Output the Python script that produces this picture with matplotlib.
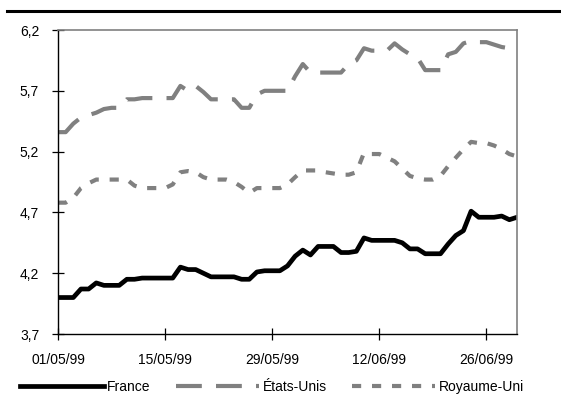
import matplotlib
matplotlib.use("Agg")
import matplotlib.pyplot as plt
import matplotlib.dates as mdates
from matplotlib.lines import Line2D
from matplotlib.ticker import FuncFormatter, FixedLocator
import pandas as pd

plt.rcParams['font.family'] = ['Liberation Sans', 'DejaVu Sans']
plt.rcParams['font.size'] = 10

dates = pd.date_range("1999-05-01", "1999-06-30", freq="D")

france = [4.00, 4.00, 4.00, 4.07, 4.07, 4.12, 4.10, 4.10, 4.10, 4.15,
          4.15, 4.16, 4.16, 4.16, 4.16, 4.16, 4.25, 4.23, 4.23, 4.20,
          4.17, 4.17, 4.17, 4.17, 4.15, 4.15, 4.21, 4.22, 4.22, 4.22,
          4.26, 4.34, 4.39, 4.35, 4.42, 4.42, 4.42, 4.37, 4.37, 4.38,
          4.49, 4.47, 4.47, 4.47, 4.47, 4.45, 4.40, 4.40, 4.36, 4.36,
          4.36, 4.44, 4.51, 4.55, 4.71, 4.66, 4.66, 4.66, 4.67, 4.64,
          4.66]

etats_unis = [5.36, 5.36, 5.43, 5.48, 5.50, 5.52, 5.55, 5.56, 5.56, 5.63,
              5.63, 5.64, 5.64, 5.64, 5.64, 5.64, 5.74, 5.70, 5.74, 5.69,
              5.63, 5.63, 5.63, 5.63, 5.56, 5.56, 5.67, 5.70, 5.70, 5.70,
              5.70, 5.82, 5.92, 5.85, 5.85, 5.85, 5.85, 5.85, 5.92, 5.95,
              6.05, 6.03, 6.03, 6.03, 6.09, 6.04, 6.00, 5.97, 5.87, 5.87,
              5.87, 6.00, 6.02, 6.09, 6.11, 6.10, 6.10, 6.08, 6.06, 6.05,
              6.08]

royaume_uni = [4.78, 4.78, 4.82, 4.90, 4.94, 4.97, 4.97, 4.97, 4.97, 4.97,
               4.92, 4.90, 4.90, 4.90, 4.90, 4.93, 5.03, 5.04, 5.03, 4.99,
               4.97, 4.97, 4.97, 4.95, 4.91, 4.86, 4.90, 4.90, 4.90, 4.90,
               4.93, 4.99, 5.045, 5.045, 5.045, 5.03, 5.02, 5.01, 5.01, 5.03,
               5.19, 5.18, 5.18, 5.15, 5.12, 5.06, 5.00, 4.98, 4.97, 4.97,
               5.00, 5.08, 5.15, 5.22, 5.28, 5.27, 5.27, 5.25, 5.22, 5.18,
               5.16]

labels = ["France", "États-Unis", "Royaume-Uni"]
y_ticks = [3.7, 4.2, 4.7, 5.2, 5.7, 6.2]
x_ticks = ["1999-05-01", "1999-05-15", "1999-05-29", "1999-06-12", "1999-06-26"]

gray = "#808080"

fig = plt.figure(figsize=(5.61, 3.98), dpi=100)
ax = fig.add_axes([58 / 561, 1 - 334 / 398, (517 - 58) / 561, (334 - 30) / 398])

l1, = ax.plot(dates, france, color="black", lw=3.4, solid_joinstyle="round", label=labels[0])
l2, = ax.plot(dates, etats_unis, color=gray, lw=3.0, dashes=(6.2, 3.4), label=labels[1])
l3, = ax.plot(dates, royaume_uni, color=gray, lw=3.0, dashes=(2.2, 2.6), label=labels[2])

ax.set_xlim(dates[0], dates[-1])
ax.set_ylim(3.7, 6.2)
ax.yaxis.set_major_locator(FixedLocator(y_ticks))
ax.yaxis.set_major_formatter(FuncFormatter(lambda v, p: f"{v:.1f}".replace(".", ",")))
ax.xaxis.set_major_locator(FixedLocator([mdates.date2num(pd.Timestamp(d)) for d in x_ticks]))
ax.xaxis.set_major_formatter(mdates.DateFormatter("%d/%m/%y"))

ax.tick_params(axis="both", direction="inout", length=8.5, width=0.9, pad=9.3,
               labelsize=10, color="black")
for s in ["left", "bottom"]:
    ax.spines[s].set_color("black")
    ax.spines[s].set_linewidth(1.0)
for s in ["top", "right"]:
    ax.spines[s].set_color(gray)
    ax.spines[s].set_linewidth(1.2)

fig.legend(handles=[l1, l2, l3], loc="center", bbox_to_anchor=(272 / 561, 1 - 387 / 398),
           ncol=3, frameon=False, handlelength=6.0, handletextpad=0.25,
           columnspacing=1.8, fontsize=10, borderaxespad=0, borderpad=0)

fig.add_artist(Line2D([7 / 561, 1.0], [1 - 10.5 / 398, 1 - 10.5 / 398],
                      transform=fig.transFigure, color="black", lw=2.2))

fig.savefig("out.png", dpi=100)
